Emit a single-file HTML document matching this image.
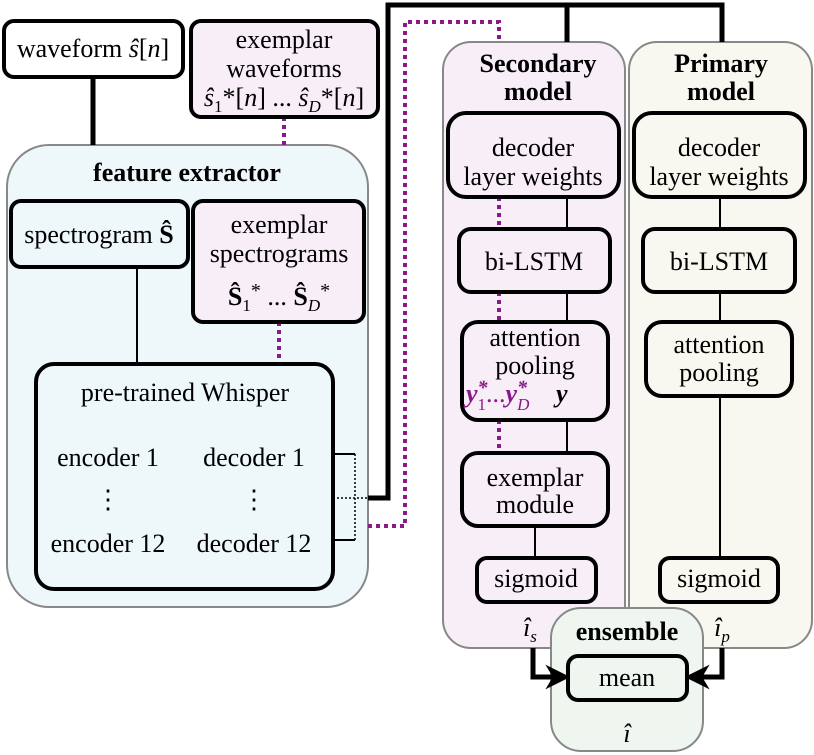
<!DOCTYPE html>
<html><head><meta charset="utf-8"><style>
html,body{margin:0;padding:0;background:#fff;font-family:"Liberation Serif","DejaVu Serif",serif;}
svg{display:block;}
svg text{font-family:"Liberation Serif","DejaVu Serif",serif !important;font-size:26px;fill:#000;}
.b{font-weight:bold;}
.pu{fill:#8a1a8a;}
</style></head><body>
<svg width="814" height="755" viewBox="0 0 814 755" xmlns="http://www.w3.org/2000/svg" style="font-family:'Liberation Serif','DejaVu Serif',serif">
<rect x="7" y="145" width="361" height="462" rx="42" fill="#eef7f9" stroke="#888" stroke-width="2"/>
<rect x="443" y="42" width="182" height="606" rx="28" fill="#f8eef7" stroke="#888" stroke-width="2"/>
<rect x="629" y="42" width="183" height="606" rx="28" fill="#f9f8f0" stroke="#888" stroke-width="2"/>
<rect x="551" y="608" width="152" height="143" rx="30" fill="#eef6ef" stroke="#888" stroke-width="2"/>

<path d="M93 77 V145" stroke="#000" stroke-width="5" fill="none"/>
<path d="M368 498 H388 V5 H722 V42 M567 5 V42" stroke="#000" stroke-width="5" fill="none"/>
<g stroke="#8a1a8a" stroke-width="4" stroke-dasharray="4 4" fill="none">
<path d="M284 117 V145"/>
<path d="M279 322 V363"/>
<path d="M368 526 H405 V22 H499 V42"/>
<path d="M499 197 V229 M499 292 V322 M499 420 V452"/>
</g>
<g stroke="#000" stroke-width="2" fill="none">
<path d="M137 267 V363"/>
<path d="M258 431 V413 H184 V572 H111 V562"/>
<path d="M333 454 H355 M333 540 H355"/>
<path d="M567 197 V229 M567 292 V322 M567 420 V452 M535 526 V557"/>
<path d="M720 197 V229 M720 292 V322 M720 396 V557"/>
</g>
<path d="M355 454 V540 M333 498 H368" stroke="#000" stroke-width="1.5" stroke-dasharray="2 2" fill="none"/>

<g stroke="#000" stroke-width="4">
<rect x="4" y="21" width="179" height="56" rx="10" fill="#fff"/>
<rect x="191" y="21" width="187" height="96" rx="10" fill="#f8eef7"/>
<rect x="11" y="201" width="177" height="66" rx="10" fill="#eef7f9"/>
<rect x="193" y="201" width="171" height="121" rx="10" fill="#f8eef7"/>
<rect x="36" y="364" width="297" height="225" rx="18" fill="#eef7f9"/>
<rect x="448" y="113" width="171" height="84" rx="18" fill="#f8eef7"/>
<rect x="459" y="229" width="151" height="63" rx="12" fill="#f8eef7"/>
<rect x="462" y="322" width="146" height="98" rx="16" fill="#f8eef7"/>
<rect x="462" y="453" width="146" height="73" rx="16" fill="#f8eef7"/>
<rect x="477" y="558" width="119" height="44" rx="10" fill="#f8eef7"/>
<rect x="634" y="113" width="171" height="84" rx="18" fill="#f9f8f0"/>
<rect x="643" y="229" width="152" height="63" rx="12" fill="#f9f8f0"/>
<rect x="646" y="322" width="146" height="74" rx="16" fill="#f9f8f0"/>
<rect x="660" y="558" width="118" height="44" rx="10" fill="#f9f8f0"/>
<rect x="568" y="656" width="119" height="44" rx="10" fill="#eef6ef"/>
</g>

<path d="M533 648 V677 H555 M722 648 V677 H700" stroke="#000" stroke-width="5" fill="none"/>
<path d="M568 677 L548 667 L554 677 L548 687 Z" fill="#000" stroke="#000" stroke-width="2"/>
<path d="M687 677 L707 667 L701 677 L707 687 Z" fill="#000" stroke="#000" stroke-width="2"/>

<g text-anchor="middle" font-family="Liberation Serif">
<text x="93" y="57">waveform <tspan font-style="italic">ŝ</tspan>[<tspan font-style="italic">n</tspan>]</text>
<text x="284" y="48">exemplar</text>
<text x="284" y="77">waveforms</text>
<text x="284" y="106"><tspan font-style="italic">ŝ</tspan><tspan font-size="17" dy="6">1</tspan><tspan dy="-6">*[</tspan><tspan font-style="italic">n</tspan>]  ...  <tspan font-style="italic">ŝ</tspan><tspan font-size="17" font-style="italic" dy="6">D</tspan><tspan dy="-6">*[</tspan><tspan font-style="italic">n</tspan>]</text>
<text x="187" y="181" class="b">feature extractor</text>
<text x="99" y="243">spectrogram <tspan font-weight="bold">Ŝ</tspan></text>
<text x="279" y="233">exemplar</text>
<text x="279" y="262">spectrograms</text>
<text x="279" y="305"><tspan font-weight="bold">Ŝ</tspan><tspan font-size="17" dy="6">1</tspan><tspan dy="-14" font-size="20">*</tspan><tspan dy="8">  ...  </tspan><tspan font-weight="bold">Ŝ</tspan><tspan font-size="17" font-style="italic" dy="6">D</tspan><tspan dy="-14" font-size="20">*</tspan></text>
<text x="185" y="401">pre-trained Whisper</text>
<text x="108" y="466">encoder 1</text>
<text x="108" y="508">⋮</text>
<text x="108" y="552">encoder 12</text>
<text x="254" y="466">decoder 1</text>
<text x="254" y="508">⋮</text>
<text x="254" y="552">decoder 12</text>
<text x="538" y="72" class="b">Secondary</text>
<text x="538" y="100" class="b">model</text>
<text x="721" y="72" class="b">Primary</text>
<text x="721" y="100" class="b">model</text>
<text x="533" y="156">decoder</text>
<text x="533" y="185">layer weights</text>
<text x="719" y="156">decoder</text>
<text x="719" y="185">layer weights</text>
<text x="534" y="270">bi-LSTM</text>
<text x="719" y="270">bi-LSTM</text>
<text x="535" y="346">attention</text>
<text x="535" y="374">pooling</text>
<text x="719" y="353">attention</text>
<text x="719" y="381">pooling</text>
<text x="535" y="486">exemplar</text>
<text x="535" y="513">module</text>
<text x="536" y="587">sigmoid</text>
<text x="719" y="587">sigmoid</text>
<text x="627" y="640" class="b">ensemble</text>
<text x="627" y="686">mean</text>
<text x="627" y="742" font-style="italic">î</text>
<text x="530" y="636" font-style="italic">î<tspan font-size="17" dy="6">s</tspan></text>
<text x="722" y="636" font-style="italic">î<tspan font-size="17" dy="6">p</tspan></text>
</g>
<text x="466" y="402" class="pu" font-weight="bold" font-style="italic">y<tspan font-size="20" dy="-8">*</tspan><tspan font-size="17" font-weight="normal" font-style="normal" dx="-10" dy="16">1</tspan><tspan font-weight="normal" font-style="normal" dy="-8">...</tspan>y<tspan font-size="20" dy="-8">*</tspan><tspan font-size="17" font-weight="normal" dx="-10" dy="16">D</tspan></text>
<text x="556" y="402" font-weight="bold" font-style="italic">y</text>
</svg>
</body></html>
